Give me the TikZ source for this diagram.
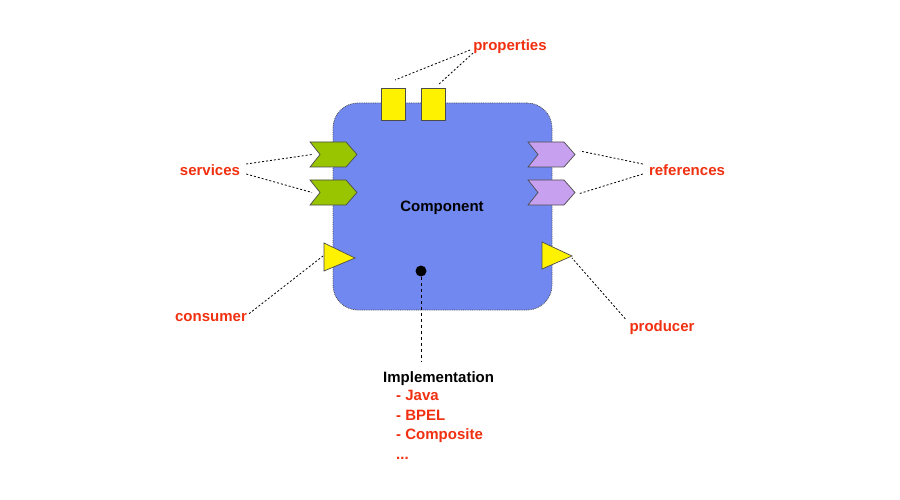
\documentclass[tikz,border=0pt]{standalone}
\usepackage{fontspec}
\setmainfont{Liberation Sans}
\definecolor{compblue}{HTML}{7088F0}
\definecolor{lbred}{HTML}{F03010}
\definecolor{svgreen}{HTML}{99C400}
\definecolor{refpurple}{HTML}{C8A0F0}
\begin{document}
\begin{tikzpicture}[x=1pt,y=-1pt,
  lbl/.style={text=lbred, font=\fontsize{15}{18}\selectfont\bfseries, inner sep=0},
  dots/.style={dash pattern=on 2pt off 2pt, line width=0.8pt},
  port/.style={draw=black!70, line width=0.7pt}]
\useasboundingbox[fill=white] (0,0) rectangle (900,500);
\node[draw=black!70, densely dotted, line width=0.8pt, fill=compblue, rounded corners=25pt, minimum width=219pt, minimum height=207pt, inner sep=0] (comp) at (442.5,206.5) {};
\node[font=\fontsize{15}{18}\selectfont\bfseries] (cl) at (442,208) {Component};
% properties
\node[port, fill=yellow, minimum width=24pt, minimum height=32pt, inner sep=0] (p1) at (393,104) {};
\node[port, fill=yellow, minimum width=24pt, minimum height=32pt, inner sep=0] (p2) at (433,104) {};
\coordinate (p1t) at (395,80);
\coordinate (p2t) at (438,85);
% chevrons
\foreach \n/\x/\y/\c in {s1/310/142/svgreen, s2/310/180/svgreen, r1/528/142/refpurple, r2/528/180/refpurple}{
  \filldraw[port, fill=\c] (\x,\y) -- ++(36,0) -- ++(11,12.5) -- ++(-11,12.5) -- ++(-36,0) -- ++(10,-12.5) -- cycle;
  \coordinate (\n) at (\x+2,\y+12.5);
}
\coordinate (r1e) at (580,151);
\coordinate (r2e) at (578,194);
% triangles
\filldraw[port, fill=yellow] (324,243) -- (355,258) -- (324,271) -- cycle;
\filldraw[port, fill=yellow] (542,242) -- (572,256) -- (542,269) -- cycle;
\coordinate (ct) at (323,256);
\coordinate (pt) at (572,258);
\node[circle, fill=black, minimum size=11pt, inner sep=0] (dot) at (421,271) {};
% labels
\node[lbl] (prop) at (510,47) {properties};
\node[lbl] (serv) at (210,170) {services};
\node[lbl] (ref) at (687,170) {references};
\node[lbl] (cons) at (211,318) {consumer};
\node[lbl] (prod) at (662,328) {producer};
\node[font=\fontsize{15}{18}\selectfont\bfseries, anchor=north west, inner sep=0] (impl) at (383,371) {Implementation};
\node[lbl, anchor=north west, align=left] (il) at (396,390) {- Java\\[1.5pt]- BPEL\\[1.5pt]- Composite\\[1.5pt]...};
% connectors
\draw[dots] (prop.west) ++(-3,3) -- (p1t);
\draw[dots] (prop.west) ++(0,6) -- (p2t);
\draw[dots] (serv.east) ++(6,-6) -- (s1);
\draw[dots] (serv.east) ++(6,4) -- (s2);
\draw[dots] (ref.west) ++(-6,-6) -- (r1e);
\draw[dots] (ref.west) ++(-6,4) -- (r2e);
\draw[dots] (cons.north east) ++(2,0) -- (ct);
\draw[dots] (prod.north west) ++(-4,-2) -- (pt);
\draw[dashed, line width=0.8pt] (dot) -- (421,362);
\end{tikzpicture}
\end{document}
